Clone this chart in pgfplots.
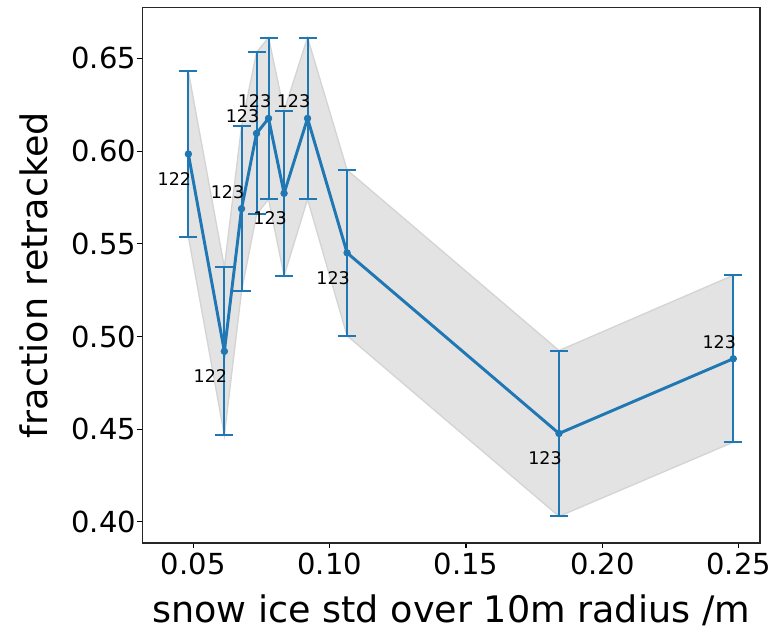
\documentclass[border=0pt]{standalone}
\usepackage{fontspec}
\setmainfont{DejaVu Sans}
\usepackage{pgfplots}
\usepackage{pgfplotstable}
\pgfplotsset{compat=1.18}
\usepgfplotslibrary{fillbetween}

\definecolor{mplblue}{HTML}{1F77B4}

% x: snow ice std, y: fraction retracked, e: half-width of the error bar, n: sample count
\pgfplotstableread{
x       y       e       n
0.0482  0.5984  0.0445  122
0.0614  0.4920  0.0453  122
0.0677  0.5689  0.0445  123
0.0732  0.6095  0.0437  123
0.0776  0.6176  0.0436  123
0.0833  0.5772  0.0445  123
0.0919  0.6176  0.0436  123
0.1064  0.5451  0.0447  123
0.1841  0.4477  0.0447  123
0.2480  0.4880  0.0450  123
}\retracked

% counts written above their point
\pgfplotstableread{
x       y       n
0.0677  0.5689  123
0.0732  0.6095  123
0.0776  0.6176  123
0.0919  0.6176  123
0.2480  0.4880  123
}\countsabove

% counts written below their point
\pgfplotstableread{
x       y       n
0.0482  0.5984  122
0.0614  0.4920  122
0.0833  0.5772  123
0.1064  0.5451  123
0.1841  0.4477  123
}\countsbelow

\begin{document}
\begin{tikzpicture}
\begin{axis}[
  scale only axis,
  width=463.3pt, height=401.8pt,
  xmin=0.0313, xmax=0.2578,
  ymin=0.3886, ymax=0.6775,
  xtick={0.05,0.10,0.15,0.20,0.25},
  ytick={0.40,0.45,0.50,0.55,0.60,0.65},
  /pgf/number format/assume math mode=true,
  /pgf/number format/.cd, fixed, fixed zerofill, precision=2, /pgfplots/.cd,
  scaled ticks=false,
  tick align=outside,
  major tick length=4pt,
  tick style={black, line width=0.8pt},
  axis line style={line width=0.9pt, black!85},
  xtick pos=bottom, ytick pos=left,
  ticklabel style={font=\fontsize{21.75}{24}\selectfont},
  yticklabel style={inner xsep=0.5pt},
  label style={font=\fontsize{27.4}{30}\selectfont},
  xlabel={snow ice std over 10m radius /m},
  ylabel={fraction retracked},
  xlabel style={at={(axis description cs:0.5,-0.125)}, anchor=center},
  ylabel style={at={(axis description cs:-0.175,0.5)}, anchor=center, rotate=0},
]
\coordinate (sw) at (rel axis cs:0,0);
\coordinate (ne) at (rel axis cs:1,1);

% shaded band spanning mean +/- error
\addplot[name path=upper, draw=none, forget plot]
  table[x=x, y expr=\thisrow{y}+\thisrow{e}] {\retracked};
\addplot[name path=lower, draw=none, forget plot]
  table[x=x, y expr=\thisrow{y}-\thisrow{e}] {\retracked};
\addplot[fill=black!11, draw=black!17, line width=1pt, forget plot]
  fill between[of=upper and lower];

% mean line with error bars
\addplot[
  mplblue, line width=2.2pt,
  mark=*, mark size=2.5pt, mark options={solid, fill=mplblue, draw=mplblue, line width=0.5pt},
  error bars/.cd,
    y dir=both, y explicit,
    error bar style={line width=1.5pt, mplblue},
    error mark options={rotate=90, mark size=6.75pt, line width=1.5pt, mplblue},
] table[x=x, y=y, y error=e] {\retracked};

% sample counts
\addplot[
  draw=none, mark=none,
  point meta=explicit symbolic,
  nodes near coords,
  every node near coord/.style={anchor=center, xshift=-10.5pt, yshift=12.75pt,
    font=\fontsize{13.1}{15}\selectfont, text=black, inner sep=0pt},
] table[x=x, y=y, meta=n] {\countsabove};
\addplot[
  draw=none, mark=none,
  point meta=explicit symbolic,
  nodes near coords,
  every node near coord/.style={anchor=center, xshift=-10.5pt, yshift=-18.75pt,
    font=\fontsize{13.1}{15}\selectfont, text=black, inner sep=0pt},
] table[x=x, y=y, meta=n] {\countsbelow};
\end{axis}
\pgfresetboundingbox
\path[use as bounding box] ([xshift=-106.7pt, yshift=-65.25pt]sw) rectangle ([xshift=12pt, yshift=5.5pt]ne);
\end{tikzpicture}
\end{document}
